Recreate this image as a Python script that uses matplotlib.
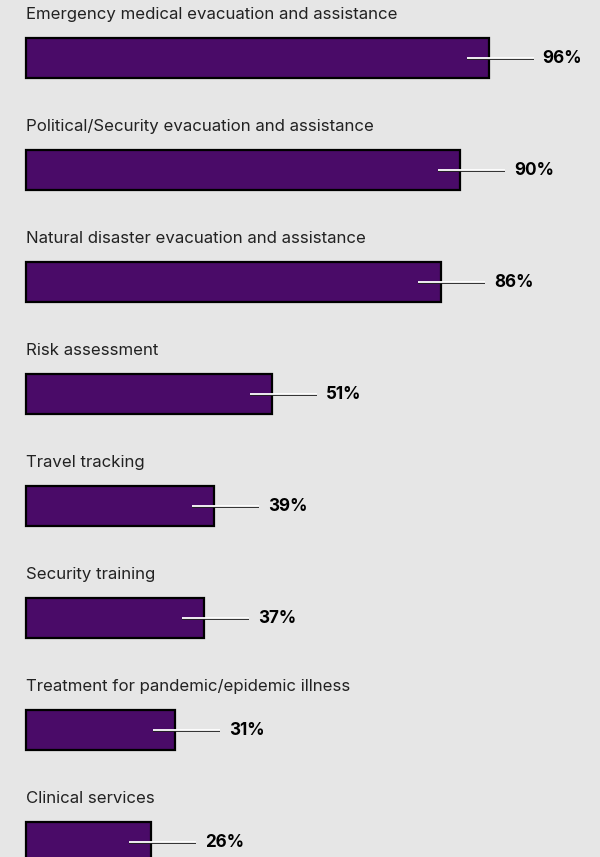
import matplotlib.pyplot as plt
import matplotlib.patheffects as pe

categories = [
    'Emergency medical evacuation and assistance',
    'Political/Security evacuation and assistance',
    'Natural disaster evacuation and assistance',
    'Risk assessment',
    'Travel tracking',
    'Security training',
    'Treatment for pandemic/epidemic illness',
    'Clinical services',
]
values = [96, 90, 86, 51, 39, 37, 31, 26]
value_labels = ['96%', '90%', '86%', '51%', '39%', '37%', '31%', '26%']

bg = '#e6e6e6'
purple = '#4a0b68'

plt.rcParams['font.family'] = ['Inter', 'DejaVu Sans']

fig = plt.figure(figsize=(6, 8.57), dpi=100, facecolor=bg)
ax = fig.add_axes([0, 0, 1, 1])
ax.set_facecolor(bg)

ypos = list(range(len(values)))
ax.barh(ypos, values, height=0.357, left=0, color=purple,
        edgecolor='black', linewidth=1.6)

for i, (cat, v, lab) in enumerate(zip(categories, values, value_labels)):
    ax.text(0, i - 0.385, cat, fontsize=12.1, color='#222222',
            va='center', ha='left')
    ax.plot([v - 4.6, v + 9.3], [i, i], color='white', lw=1.3,
            solid_capstyle='butt',
            path_effects=[pe.SimpleLineShadow(offset=(0, -0.9),
                                              shadow_color='#222222',
                                              alpha=1),
                          pe.Normal()])
    ax.text(v + 11.2, i, lab, fontsize=12.3, fontweight='bold',
            color='black', va='center', ha='left')

ax.set_xlim(-26 / 4.82, (600 - 26) / 4.82)
ax.set_ylim((857 - 58) / 112, -58 / 112)
ax.axis('off')

plt.savefig('out.png', dpi=100, facecolor=bg)
